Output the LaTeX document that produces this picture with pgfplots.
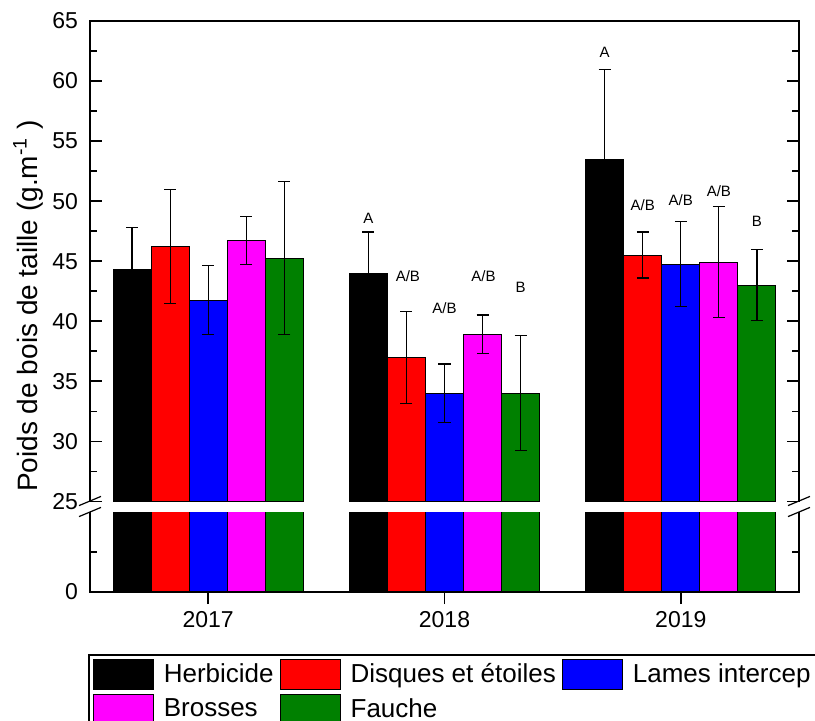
\documentclass[border=0pt]{standalone}
\usepackage{fontspec}
\setmainfont{Liberation Sans}
\usepackage{pgfplots}
\pgfplotsset{compat=1.18}
\definecolor{cblack}{RGB}{0,0,0}
\definecolor{cred}{RGB}{255,0,0}
\definecolor{cblue}{RGB}{0,0,255}
\definecolor{cmag}{RGB}{255,0,255}
\definecolor{cgreen}{RGB}{0,128,0}
\pgfplotsset{
  mybar/.style={ybar, bar width=0.161, bar shift=0pt, draw=black, line width=0.5pt, fill=#1},
  myerr/.style={error bars/.cd, y dir=both, y explicit,
    error bar style={line width=0.6pt, black},
    error mark options={rotate=90, mark size=3pt, line width=0.6pt, black}},
  common/.style={scale only axis, width=354.5pt, xmin=0.5, xmax=3.5,
    axis line style={draw=none},
    tick style={black, line width=0.9pt},
    major tick length=6pt, minor tick length=3.5pt,
    /pgf/number format/assume math mode=true,
    ticklabel style={font=\fontsize{11.5}{13}\selectfont}},
}
\begin{document}
\begin{tikzpicture}
\useasboundingbox (0,0) rectangle (407.5pt,360pt);
\fill[white] (0,0) rectangle (407.5pt,360pt);
% upper axis
\begin{axis}[common,
  at={(45pt,109.25pt)}, anchor=south west, height=240.25pt,
  ymin=25, ymax=65, xtick=\empty, ytick={25,30,...,65}, minor y tick num=1,
  tick align=inside,
  yticklabel style={xshift=-2.5pt},
  ylabel={Poids de bois de taille (g.m\textsuperscript{-1} )},
  ylabel style={at={(axis description cs:-0.0874,0.407)}, anchor=center, font=\fontsize{14}{16}\selectfont},
]
\addplot[mybar=cblack, myerr] coordinates {(0.678,44.35) +- (0,3.44) (1.678,43.96) +- (0,3.47) (2.678,53.43) +- (0,7.55)};
\addplot[mybar=cred, myerr] coordinates {(0.839,46.24) +- (0,4.75) (1.839,37.00) +- (0,3.85) (2.839,45.52) +- (0,1.92)};
\addplot[mybar=cblue, myerr] coordinates {(1.000,41.77) +- (0,2.87) (2.000,34.03) +- (0,2.42) (3.000,44.77) +- (0,3.53)};
\addplot[mybar=cmag, myerr] coordinates {(1.161,46.74) +- (0,2.00) (2.161,38.91) +- (0,1.62) (3.161,44.93) +- (0,4.61)};
\addplot[mybar=cgreen, myerr] coordinates {(1.322,45.27) +- (0,6.35) (2.322,34.03) +- (0,4.80) (3.322,43.00) +- (0,2.96)};
\begin{scope}[every node/.style={font=\fontsize{7.5}{9}\selectfont}]
\node at (axis cs:1.678,48.6) {A};
\node at (axis cs:1.845,43.8) {A/B};
\node at (axis cs:2.0,41.1) {A/B};
\node at (axis cs:2.165,43.8) {A/B};
\node at (axis cs:2.322,42.8) {B};
\node at (axis cs:2.678,62.4) {A};
\node at (axis cs:2.839,49.7) {A/B};
\node at (axis cs:3.0,50.1) {A/B};
\node at (axis cs:3.161,50.85) {A/B};
\node at (axis cs:3.322,48.3) {B};
\end{scope}
\end{axis}
% lower axis
\begin{axis}[common,
  at={(45pt,64pt)}, anchor=south west, height=40pt,
  ymin=0, ymax=20, ytick={0}, minor ytick={10},
  xtick={1,2,3}, xticklabels={2017,2018,2019}, xtick pos=left,
  xtick align=outside, ytick align=inside,
  yticklabel style={xshift=-2.5pt},
  legend columns=3, legend cell align=left,
  legend image code/.code={\draw[#1, draw=black, line width=0.5pt] (0pt,-7.5pt) rectangle (30pt,7.5pt);},
  legend style={at={(axis description cs:0,0)}, anchor=north west, xshift=-1pt, yshift=-31pt,
    draw=black, line width=0.8pt, font=\fontsize{13}{15}\selectfont,
    inner sep=2pt, row sep=2pt,
    nodes={inner sep=1.5pt},
    /tikz/every even column/.append style={column sep=1.5pt},
    /tikz/every odd column/.append style={column sep=3.5pt}},
]
\addplot[mybar=cblack] coordinates {(0.678,44.35) (1.678,43.96) (2.678,53.43)};
\addlegendentry{Herbicide}
\addplot[mybar=cred] coordinates {(0.839,46.24) (1.839,37.00) (2.839,45.52)};
\addlegendentry{Disques et étoiles}
\addplot[mybar=cblue] coordinates {(1.000,41.77) (2.000,34.03) (3.000,44.77)};
\addlegendentry{Lames intercep}
\addplot[mybar=cmag] coordinates {(1.161,46.74) (2.161,38.91) (3.161,44.93)};
\addlegendentry{Brosses}
\addplot[mybar=cgreen] coordinates {(1.322,45.27) (2.322,34.03) (3.322,43.00)};
\addlegendentry{Fauche}
\end{axis}
% spines
\draw[line width=1pt, line join=miter] (45pt,109.25pt) -- (45pt,349.5pt) -- (399.5pt,349.5pt) -- (399.5pt,109.25pt);
\draw[line width=1pt, line join=miter] (45pt,104pt) -- (45pt,64pt) -- (399.5pt,64pt) -- (399.5pt,104pt);
% break marks
\foreach \xx in {45pt,399.5pt}{
  \draw[line width=0.6pt] ([xshift=-5.5pt,yshift=-2.3pt]\xx,109.5pt) -- ([xshift=5.5pt,yshift=2.3pt]\xx,109.5pt);
  \draw[line width=0.6pt] ([xshift=-5.5pt,yshift=-2.3pt]\xx,104pt) -- ([xshift=5.5pt,yshift=2.3pt]\xx,104pt);
}
\end{tikzpicture}
\end{document}
